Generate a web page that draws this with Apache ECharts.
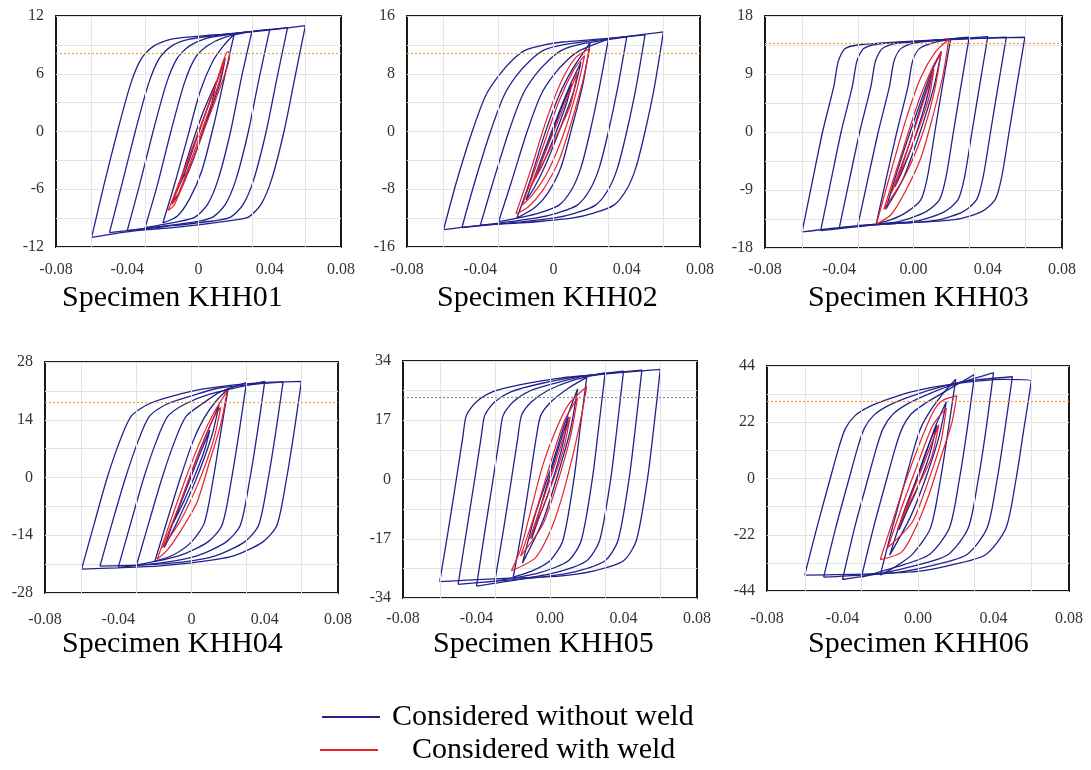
<!DOCTYPE html>
<html>
<head>
<meta charset="utf-8">
<script src="https://cdn.jsdelivr.net/npm/echarts@6/dist/echarts.min.js"></script>
<style>
html,body{margin:0;padding:0;background:#fff;}
#chart{width:1091px;height:770px;}
</style>
</head>
<body>
<div id="chart"></div>
<script>
// ---------------- DATA ----------------
const specimenNames = ['Specimen KHH01','Specimen KHH02','Specimen KHH03','Specimen KHH04','Specimen KHH05','Specimen KHH06'];
const yLimits = [12, 16, 18, 28, 34, 44];
const yTickLabels = [
  [-12,-6,0,6,12],
  [-16,-8,0,8,16],
  [-18,-9,0,9,18],
  [-28,-14,0,14,28],
  [-34,-17,0,17,34],
  [-44,-22,0,22,44]
];
const xTickLabelsPlain = ['-0.08','-0.04','0','0.04','0.08'];
const xTickLabelsFixed = ['-0.08','-0.04','0.00','0.04','0.08'];
const yieldForce = [8.1, 10.8, 13.8, 18.3, 23.5, 30.4];
const xGridLines = [-0.06, -0.03, 0, 0.03, 0.06];

// KHH01
const khh01Blue = [
  [[-0.01,-5.0],[-0.0035,-1.2],[0.003,2.2],[0.01,5.2],[0.0075,3.0],[0.0015,-0.6],[-0.0055,-4.0],[-0.01,-5.0]],
  [[-0.015,-7.4],[-0.008,-4.4],[0.0,-0.2],[0.008,4.0],[0.015,7.6],[0.012,5.0],[0.004,0.8],[-0.004,-3.4],[-0.011,-6.4],[-0.015,-7.4]],
  [[-0.02,-9.5],[-0.013,-5.2],[-0.006,-0.5],[0.001,4.2],[0.008,7.3],[0.014,8.9],[0.02,10.1],[0.015,6.0],[0.009,1.0],[0.002,-4.0],[-0.005,-7.0],[-0.012,-8.8],[-0.02,-9.5]],
  [[-0.03,-10.0],[-0.023,-5.5],[-0.0155,0],[-0.008,5.0],[-0.002,7.6],[0.005,8.9],[0.015,9.8],[0.03,10.4],[0.024,5.5],[0.018,0],[0.011,-5.0],[0.005,-7.6],[-0.002,-8.9],[-0.012,-9.4],[-0.03,-10.0]],
  [[-0.04,-10.3],[-0.033,-5.5],[-0.0255,0],[-0.018,5.0],[-0.012,7.6],[-0.005,8.9],[0.005,9.7],[0.04,10.6],[0.034,5.5],[0.028,0],[0.021,-5.0],[0.015,-7.6],[0.008,-8.9],[-0.002,-9.4],[-0.04,-10.3]],
  [[-0.05,-10.5],[-0.043,-5.5],[-0.0355,0],[-0.028,5.0],[-0.022,7.6],[-0.015,8.9],[-0.005,9.6],[0.02,10.2],[0.05,10.8],[0.044,5.5],[0.038,0],[0.031,-5.0],[0.025,-7.6],[0.018,-8.9],[0.008,-9.3],[-0.02,-9.9],[-0.05,-10.5]],
  [[-0.06,-11.0],[-0.053,-5.5],[-0.0455,0],[-0.038,5.0],[-0.032,7.6],[-0.025,8.9],[-0.015,9.6],[0.01,10.05],[0.035,10.45],[0.06,11.0],[0.054,5.5],[0.048,0],[0.041,-5.0],[0.035,-7.6],[0.028,-8.9],[0.018,-9.25],[-0.01,-9.9],[-0.035,-10.3],[-0.06,-11.0]]
];
const khh01Red = [
  [[-0.017,-8.2],[-0.009,-4.4],[0.0,0.0],[0.009,4.4],[0.0165,8.3],[0.0175,7.9],[0.013,5.0],[0.004,0.6],[-0.005,-3.8],[-0.0135,-7.6],[-0.017,-8.2]],
  [[-0.015,-7.6],[-0.007,-3.6],[0.001,0.4],[0.009,4.6],[0.015,7.7],[0.011,4.8],[0.003,0.7],[-0.005,-3.4],[-0.012,-6.8],[-0.015,-7.6]]
];

// KHH02
const khh02Blue = [
  [[-0.01,-6.5],[-0.003,-1.8],[0.004,3.0],[0.01,6.6],[0.007,3.8],[0.0,-1.0],[-0.006,-4.6],[-0.01,-6.5]],
  [[-0.015,-9.5],[-0.007,-4.0],[0.002,2.0],[0.009,6.4],[0.015,9.6],[0.011,5.5],[0.003,0.0],[-0.005,-5.0],[-0.011,-8.0],[-0.015,-9.5]],
  [[-0.02,-12.0],[-0.013,-7.0],[-0.005,-0.5],[0.003,5.0],[0.010,8.5],[0.016,10.8],[0.02,12.3],[0.016,6.5],[0.010,0.5],[0.004,-5.0],[-0.003,-8.5],[-0.010,-10.5],[-0.02,-12.0]],
  [[-0.03,-12.5],[-0.023,-7.0],[-0.0144,0],[-0.007,5.0],[0.0,7.8],[0.008,10.0],[0.015,11.3],[0.03,12.8],[0.025,6.0],[0.020,0],[0.015,-5.0],[0.010,-8.0],[0.003,-10.2],[-0.008,-11.3],[-0.018,-11.9],[-0.03,-12.5]],
  [[-0.04,-13.0],[-0.033,-7.0],[-0.0244,0],[-0.017,5.0],[-0.010,7.8],[-0.002,10.0],[0.005,11.3],[0.015,12.1],[0.04,13.1],[0.035,6.0],[0.030,0],[0.025,-5.0],[0.020,-8.0],[0.013,-10.2],[0.002,-11.3],[-0.010,-12.0],[-0.04,-13.0]],
  [[-0.05,-13.3],[-0.043,-7.0],[-0.0344,0],[-0.027,5.0],[-0.020,7.8],[-0.012,10.0],[-0.005,11.3],[0.005,12.0],[0.025,12.7],[0.05,13.4],[0.045,6.0],[0.040,0],[0.035,-5.0],[0.030,-8.0],[0.023,-10.2],[0.012,-11.3],[0.0,-12.0],[-0.025,-12.7],[-0.05,-13.3]],
  [[-0.06,-13.6],[-0.053,-7.0],[-0.0444,0],[-0.037,5.0],[-0.0297,7.8],[-0.022,10.0],[-0.015,11.3],[-0.005,12.0],[0.005,12.4],[0.02,12.7],[0.038,13.1],[0.06,13.8],[0.055,6.0],[0.05,0],[0.045,-5.0],[0.04,-8.0],[0.033,-10.2],[0.022,-11.3],[0.01,-12.0],[-0.005,-12.4],[-0.02,-12.7],[-0.04,-13.0],[-0.06,-13.6]]
];
const khh02Red = [
  [[-0.0205,-11.4],[-0.012,-5.0],[-0.004,1.5],[0.004,6.8],[0.012,10.2],[0.0198,11.5],[0.016,7.0],[0.010,1.5],[0.003,-4.0],[-0.006,-8.2],[-0.014,-10.5],[-0.0205,-11.4]],
  [[-0.017,-10.2],[-0.007,-3.0],[0.003,4.2],[0.011,8.5],[0.017,10.5],[0.013,6.0],[0.006,0],[-0.003,-5.5],[-0.011,-8.6],[-0.017,-10.2]],
  [[-0.013,-8.0],[0.001,0.5],[0.013,8.2],[0.009,3.5],[-0.002,-2.5],[-0.013,-8.0]]
];

// KHH03
const khh03Blue = [
  [[-0.01,-8.5],[-0.003,-2.5],[0.004,4.0],[0.01,9.0],[0.007,5.0],[0.0,-1.5],[-0.006,-6.0],[-0.01,-8.5]],
  [[-0.015,-12.0],[-0.007,-4.5],[0.003,4.0],[0.010,9.5],[0.015,12.5],[0.011,7.0],[0.003,-0.5],[-0.006,-7.5],[-0.015,-12.0]],
  [[-0.02,-14.2],[-0.0145,-7.0],[-0.009,0],[-0.003,7.0],[-0.0005,11.0],[0.003,12.9],[0.010,13.8],[0.02,14.4],[0.0155,7.0],[0.0115,0],[0.0075,-7.0],[0.004,-10.5],[-0.0035,-12.4],[-0.012,-13.6],[-0.02,-14.2]],
  [[-0.03,-14.5],[-0.0245,-7.2],[-0.019,0],[-0.013,7.0],[-0.0105,11.0],[-0.007,12.9],[0.0,13.8],[0.03,14.7],[0.0255,7.0],[0.0215,0],[0.0175,-7.0],[0.014,-10.5],[0.0065,-12.4],[-0.008,-13.9],[-0.03,-14.5]],
  [[-0.04,-14.9],[-0.0345,-7.4],[-0.029,0],[-0.023,7.0],[-0.0205,11.0],[-0.017,12.9],[-0.010,13.7],[0.015,14.3],[0.04,14.8],[0.0355,7.0],[0.0315,0],[0.0275,-7.0],[0.024,-10.5],[0.0165,-12.4],[0.002,-13.8],[-0.02,-14.3],[-0.04,-14.9]],
  [[-0.05,-15.3],[-0.0445,-7.6],[-0.039,0],[-0.033,7.0],[-0.0305,11.0],[-0.027,12.9],[-0.020,13.6],[0.01,14.2],[0.05,14.7],[0.0455,7.0],[0.0415,0],[0.0375,-7.0],[0.034,-10.5],[0.0265,-12.4],[0.012,-13.7],[-0.02,-14.4],[-0.05,-15.3]],
  [[-0.06,-15.5],[-0.0545,-7.7],[-0.049,0],[-0.043,7.0],[-0.0405,11.0],[-0.037,12.9],[-0.030,13.5],[0.0,14.1],[0.03,14.5],[0.06,14.7],[0.0555,7.0],[0.0515,0],[0.0475,-7.0],[0.044,-10.5],[0.0365,-12.4],[0.022,-13.6],[-0.01,-14.2],[-0.035,-14.7],[-0.06,-15.5]]
];
const khh03Red = [
  [[-0.02,-14.3],[-0.012,-6.0],[-0.004,2.0],[0.004,8.5],[0.012,12.5],[0.019,14.4],[0.016,9.0],[0.010,2.0],[0.004,-4.0],[-0.004,-9.0],[-0.012,-12.8],[-0.02,-14.3]],
  [[-0.016,-12.0],[-0.006,-3.0],[0.003,5.0],[0.011,10.5],[0.015,12.5],[0.011,6.0],[0.004,-1.0],[-0.005,-7.0],[-0.016,-12.0]],
  [[-0.012,-9.5],[0.0,0],[0.011,9.8],[0.008,5.0],[-0.002,-3.0],[-0.012,-9.5]]
];

// KHH04
const khh04Blue = [
  [[-0.01,-11.0],[-0.003,-3.0],[0.004,5.0],[0.01,11.5],[0.007,6.5],[0.0,-1.5],[-0.006,-7.5],[-0.01,-11.0]],
  [[-0.015,-17.0],[-0.006,-6.0],[0.004,6.0],[0.015,17.5],[0.011,10.0],[0.002,-1.0],[-0.008,-11.0],[-0.015,-17.0]],
  [[-0.02,-20.3],[-0.013,-10.0],[-0.006,0],[0.001,9.0],[0.007,14.5],[0.013,18.3],[0.02,21.5],[0.016,11.0],[0.012,0],[0.007,-11.0],[0.0,-15.6],[-0.01,-18.8],[-0.02,-20.3]],
  [[-0.03,-21.2],[-0.023,-10.5],[-0.016,0],[-0.009,9.0],[-0.003,14.8],[0.006,17.9],[0.016,20.8],[0.03,23.0],[0.026,11.0],[0.022,0],[0.0167,-11.5],[0.009,-15.6],[-0.007,-19.0],[-0.03,-21.2]],
  [[-0.04,-21.8],[-0.033,-10.8],[-0.026,0],[-0.019,9.0],[-0.013,14.8],[-0.004,17.7],[0.010,20.2],[0.04,23.3],[0.036,11.0],[0.032,0],[0.0267,-11.5],[0.019,-15.6],[0.003,-19.0],[-0.015,-20.6],[-0.04,-21.8]],
  [[-0.05,-21.5],[-0.043,-10.5],[-0.036,0],[-0.029,9.0],[-0.023,14.8],[-0.014,17.7],[0.0,19.8],[0.015,21.7],[0.05,23.2],[0.046,11.0],[0.042,0],[0.0367,-11.5],[0.029,-15.6],[0.013,-19.0],[-0.005,-20.5],[-0.027,-21.2],[-0.05,-21.5]],
  [[-0.06,-22.2],[-0.053,-11.0],[-0.046,0],[-0.039,9.0],[-0.033,14.8],[-0.024,17.7],[-0.010,19.8],[0.0085,21.6],[0.035,22.9],[0.06,23.3],[0.056,11.0],[0.052,0],[0.0467,-11.5],[0.039,-15.6],[0.023,-19.0],[0.005,-20.4],[-0.017,-21.4],[-0.04,-21.9],[-0.06,-22.2]]
];
const khh04Red = [
  [[-0.0187,-19.8],[-0.011,-10.0],[-0.003,0],[0.005,9.0],[0.012,15.5],[0.0195,21.0],[0.016,13.0],[0.010,4.0],[0.003,-6.0],[-0.006,-13.0],[-0.013,-17.5],[-0.0187,-19.8]],
  [[-0.016,-17.0],[-0.006,-6.0],[0.004,6.0],[0.012,14.5],[0.016,17.0],[0.012,9.0],[0.004,-1.0],[-0.006,-10.5],[-0.016,-17.0]]
];

// KHH05
const khh05Blue = [
  [[-0.01,-17.0],[-0.003,-4.0],[0.004,8.0],[0.01,18.0],[0.006,8.0],[-0.001,-4.0],[-0.006,-11.0],[-0.01,-17.0]],
  [[-0.015,-24.0],[-0.008,-10.0],[0.001,4.0],[0.008,16.0],[0.015,26.0],[0.011,14.0],[0.004,1.0],[-0.004,-12.0],[-0.015,-24.0]],
  [[-0.02,-28.0],[-0.0155,-15.0],[-0.011,0],[-0.0075,12.0],[-0.005,18.4],[0.001,22.5],[0.010,26.2],[0.02,29.3],[0.0165,15.0],[0.013,0],[0.007,-17.5],[0.0,-23.3],[-0.010,-26.3],[-0.02,-28.0]],
  [[-0.03,-29.1],[-0.0255,-15.0],[-0.021,0],[-0.0175,12.0],[-0.0155,18.4],[-0.010,22.3],[-0.001,25.6],[0.012,28.4],[0.03,30.6],[0.0265,15.0],[0.023,0],[0.017,-17.5],[0.010,-23.3],[-0.006,-26.8],[-0.03,-29.1]],
  [[-0.04,-30.6],[-0.0355,-15.0],[-0.031,0],[-0.0275,12.0],[-0.0255,18.4],[-0.020,22.3],[-0.011,25.4],[0.004,27.8],[0.02,29.8],[0.04,31.1],[0.0365,15.0],[0.033,0],[0.027,-17.5],[0.020,-23.3],[0.004,-26.6],[-0.015,-28.5],[-0.04,-30.6]],
  [[-0.05,-30.1],[-0.0455,-15.0],[-0.041,0],[-0.0375,12.0],[-0.0355,18.4],[-0.030,22.3],[-0.021,25.2],[-0.006,27.4],[0.015,29.5],[0.05,31.4],[0.0465,15.0],[0.043,0],[0.037,-17.5],[0.030,-23.3],[0.014,-26.4],[-0.005,-28.0],[-0.03,-29.2],[-0.05,-30.1]],
  [[-0.06,-29.3],[-0.0555,-15.0],[-0.051,0],[-0.0475,12.0],[-0.0455,18.4],[-0.040,22.3],[-0.031,25.2],[-0.016,27.2],[0.0055,29.1],[0.035,30.5],[0.06,31.6],[0.0565,15.0],[0.053,0],[0.047,-17.5],[0.040,-23.3],[0.024,-26.2],[0.005,-27.7],[-0.022,-28.3],[-0.045,-28.9],[-0.06,-29.3]]
];
const khh05Red = [
  [[-0.021,-26.2],[-0.016,-20.0],[-0.010,-8.0],[-0.004,4.0],[0.003,14.0],[0.010,21.5],[0.020,26.7],[0.017,18.0],[0.012,6.0],[0.006,-6.0],[0.0,-15.0],[-0.008,-22.5],[-0.021,-26.2]],
  [[-0.016,-22.0],[-0.007,-8.0],[0.001,6.0],[0.008,17.0],[0.015,23.5],[0.011,12.0],[0.004,-1.0],[-0.004,-13.0],[-0.016,-22.0]],
  [[-0.011,-17.0],[0.0,0],[0.011,18.0],[0.007,8.0],[-0.003,-7.0],[-0.011,-17.0]]
];

// KHH06
const khh06Blue = [
  [[-0.01,-20.0],[-0.003,-5.0],[0.004,10.0],[0.01,21.0],[0.006,9.0],[-0.001,-5.0],[-0.006,-13.0],[-0.01,-20.0]],
  [[-0.015,-30.0],[-0.007,-12.0],[0.002,5.0],[0.009,20.0],[0.015,30.0],[0.011,16.0],[0.004,0],[-0.004,-15.0],[-0.015,-30.0]],
  [[-0.02,-37.8],[-0.0135,-19.0],[-0.0065,0],[-0.002,12.0],[0.0015,19.8],[0.007,27.0],[0.013,33.0],[0.02,38.8],[0.016,19.0],[0.012,0],[0.0066,-19.4],[-0.003,-29.7],[-0.012,-34.5],[-0.02,-37.8]],
  [[-0.03,-38.6],[-0.0235,-19.0],[-0.0165,0],[-0.012,12.0],[-0.0085,19.5],[-0.0035,25.3],[0.004,29.5],[0.012,33.0],[0.02,36.5],[0.03,40.7],[0.026,19.0],[0.022,0],[0.0166,-19.4],[0.006,-29.7],[-0.011,-34.5],[-0.03,-38.6]],
  [[-0.04,-39.5],[-0.0335,-19.0],[-0.0265,0],[-0.022,12.0],[-0.0185,19.5],[-0.0135,25.0],[-0.006,29.0],[0.004,32.5],[0.016,36.0],[0.04,41.4],[0.036,19.0],[0.032,0],[0.0266,-19.4],[0.016,-29.7],[-0.001,-34.0],[-0.019,-37.0],[-0.04,-39.5]],
  [[-0.05,-38.6],[-0.0435,-19.0],[-0.0365,0],[-0.032,12.0],[-0.0285,19.5],[-0.0235,24.7],[-0.016,28.4],[-0.005,31.8],[0.008,35.0],[0.025,38.0],[0.05,39.8],[0.046,19.0],[0.042,0],[0.0366,-19.4],[0.026,-29.7],[0.009,-33.8],[-0.009,-36.5],[-0.03,-37.8],[-0.05,-38.6]],
  [[-0.06,-37.8],[-0.0535,-19.0],[-0.0465,0],[-0.042,12.0],[-0.0385,19.5],[-0.0335,24.5],[-0.026,28.0],[-0.015,31.2],[-0.003,34.0],[0.019,37.0],[0.045,38.8],[0.06,38.2],[0.056,19.0],[0.052,0],[0.0466,-19.4],[0.036,-29.7],[0.019,-33.6],[0.001,-36.2],[-0.0255,-37.3],[-0.06,-37.8]]
];
const khh06Red = [
  [[-0.020,-31.7],[-0.014,-18.0],[-0.007,-2.0],[0.001,14.0],[0.008,26.0],[0.013,30.5],[0.0205,32.3],[0.018,22.0],[0.012,8.0],[0.005,-8.0],[-0.003,-22.0],[-0.009,-29.0],[-0.020,-31.7]],
  [[-0.016,-27.0],[-0.008,-10.0],[0.001,8.0],[0.008,21.0],[0.015,27.5],[0.012,14.0],[0.005,-2.0],[-0.003,-17.0],[-0.016,-27.0]],
  [[-0.011,-20.0],[0.0,0],[0.011,21.0],[0.007,8.0],[-0.004,-9.0],[-0.011,-20.0]]
];

const blueLoops = [khh01Blue, khh02Blue, khh03Blue, khh04Blue, khh05Blue, khh06Blue];
const redLoops  = [khh01Red, khh02Red, khh03Red, khh04Red, khh05Red, khh06Red];
const xLabelSets = [xTickLabelsPlain, xTickLabelsPlain, xTickLabelsFixed, xTickLabelsPlain, xTickLabelsFixed, xTickLabelsFixed];

// ---------------- LAYOUT / STYLE ----------------
const panelRects = [
  {left:56,  top:16,  width:285, height:231},
  {left:407, top:16,  width:293, height:231},
  {left:765, top:16,  width:297, height:232},
  {left:45,  top:362, width:293, height:231},
  {left:403, top:361, width:294, height:237},
  {left:767, top:366, width:302, height:225}
];
const xLabelMargins = [15, 15, 14, 19, 13, 20];
const titleLefts = [62, 437, 808, 62, 433, 808];
const titleTops = [283, 283, 283, 629, 629, 629];
const yieldColors = ['#f2a03c','#f2a03c','#f2a03c','#f2a03c','#8c8c8c','#f2a03c'];
const BLUE = '#22228c';
const RED = '#e8202a';
const SERIF = '"Liberation Serif","Times New Roman",serif';
const NAME_BLUE = 'Considered without weld';
const NAME_RED = 'Considered with weld';
const SMOOTH = 0.25;

const grids = [], xAxes = [], yAxes = [], series = [], titles = [];

panelRects.forEach((r, i) => {
  grids.push(Object.assign({show:true, borderColor:'#1a1a1a', borderWidth:2, backgroundColor:'#fff', containLabel:false}, r));
  const labels = xLabelSets[i];
  xAxes.push({
    type:'value', gridIndex:i, min:-0.08, max:0.08, interval:0.04,
    axisLine:{show:false}, axisTick:{show:false}, splitLine:{show:false},
    axisLabel:{margin:xLabelMargins[i], fontFamily:SERIF, fontSize:16, color:'#333',
      formatter: v => { const k = Math.round((v + 0.08) / 0.04); return labels[k] !== undefined ? labels[k] : ''; }}
  });
  const ym = yLimits[i];
  const ticks = yTickLabels[i];
  const half = ym / 4;
  yAxes.push({
    type:'value', gridIndex:i, min:-ym, max:ym, interval:half,
    axisLine:{show:false}, axisTick:{show:false},
    splitLine:{show:true, lineStyle:{color:'#e4e4e4', width:1}},
    axisLabel:{margin:12, fontFamily:SERIF, fontSize:16, color:'#333',
      formatter: v => { const t = ticks.find(q => Math.abs(q - v) < 1e-6); return t !== undefined ? String(t) : ''; }}
  });
  // vertical grid lines & yield line
  series.push({
    type:'line', xAxisIndex:i, yAxisIndex:i, data:[[0,0]], showSymbol:false, silent:true,
    lineStyle:{opacity:0}, z:1,
    markLine:{
      silent:true, symbol:'none', label:{show:false}, animation:false,
      data: xGridLines.map(v => ({xAxis:v, lineStyle:{color:'#e4e4e4', width:1, type:'solid'}}))
        .concat([{yAxis:yieldForce[i], lineStyle:{color:yieldColors[i], width:1.2, type:[2,2]}}])
    }
  });
  blueLoops[i].forEach(loop => {
    series.push({
      name:NAME_BLUE, type:'line', xAxisIndex:i, yAxisIndex:i, data:loop,
      smooth:SMOOTH, showSymbol:false, symbol:'none', z:3,
      lineStyle:{color:BLUE, width:1.3}, itemStyle:{color:BLUE}
    });
  });
  redLoops[i].forEach(loop => {
    series.push({
      name:NAME_RED, type:'line', xAxisIndex:i, yAxisIndex:i, data:loop,
      smooth:SMOOTH, showSymbol:false, symbol:'none', z:4,
      lineStyle:{color:RED, width:1.2}, itemStyle:{color:RED}
    });
  });
  titles.push({
    text:specimenNames[i], left:titleLefts[i], top:titleTops[i], padding:0,
    textStyle:{fontFamily:SERIF, fontSize:30, fontWeight:'normal', color:'#000'}
  });
});

const chart = echarts.init(document.getElementById('chart'), null, {renderer:'canvas'});
chart.setOption({
  backgroundColor:'#fff',
  animation:false,
  title:titles,
  grid:grids,
  xAxis:xAxes,
  yAxis:yAxes,
  legend:[
    {left:322, top:702, padding:0, icon:'rect', itemWidth:58, itemHeight:2,
     data:[NAME_BLUE],
     textStyle:{fontFamily:SERIF, fontSize:30, color:'#000', padding:[0,0,0,7]}},
    {left:320, top:735, padding:0, icon:'rect', itemWidth:58, itemHeight:2,
     data:[NAME_RED],
     textStyle:{fontFamily:SERIF, fontSize:30, color:'#000', padding:[0,0,0,29]}}
  ],
  series:series
});
</script>
</body>
</html>
